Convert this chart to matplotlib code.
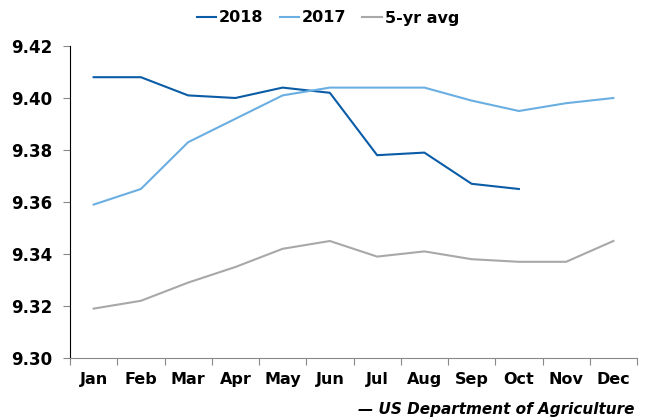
import numpy as np
import matplotlib
matplotlib.use("Agg")
import matplotlib.pyplot as plt

months = ["Jan", "Feb", "Mar", "Apr", "May", "Jun",
          "Jul", "Aug", "Sep", "Oct", "Nov", "Dec"]
y2018 = [9.408, 9.408, 9.401, 9.400, 9.404, 9.402,
         9.378, 9.379, 9.367, 9.365]
y2017 = [9.359, 9.365, 9.383, 9.392, 9.401, 9.404,
         9.404, 9.404, 9.399, 9.395, 9.398, 9.400]
avg5 = [9.319, 9.322, 9.329, 9.335, 9.342, 9.345,
        9.339, 9.341, 9.338, 9.337, 9.337, 9.345]
yticks = [9.30, 9.32, 9.34, 9.36, 9.38, 9.40, 9.42]

plt.rcParams["font.family"] = "DejaVu Sans"
plt.rcParams["font.weight"] = "bold"

fig = plt.figure(figsize=(6.47, 4.19), dpi=100)
ax = fig.add_axes([70 / 647, 1 - 358 / 419, 567 / 647, 312 / 419])

x = np.arange(len(months))
ax.plot(x[:len(y2018)], y2018, color="#0a5ca6", lw=1.5, label="2018")
ax.plot(x, y2017, color="#6aaee2", lw=1.5, label="2017")
ax.plot(x, avg5, color="#a8a8a8", lw=1.5, label="5-yr avg")

ax.set_xlim(-0.5, 11.5)
ax.set_ylim(9.30, 9.42)
ax.set_yticks(yticks)
ax.set_yticklabels([f"{v:.2f}" for v in yticks])
ax.set_xticks(x)
ax.set_xticklabels(months)
ax.set_xticks(np.arange(-0.5, 12, 1), minor=True)
ax.tick_params(axis="x", which="major", length=0, pad=10, labelsize=11.5)
ax.tick_params(axis="x", which="minor", length=5, direction="out", width=0.8, color="#888888")
ax.tick_params(axis="y", length=5, width=0.8, color="#888888", pad=8, labelsize=12)

for s in ["top", "right"]:
    ax.spines[s].set_visible(False)
ax.spines["left"].set_color("black")
ax.spines["bottom"].set_color("#888888")

fig.legend(loc="center", bbox_to_anchor=(328 / 647, 1 - 18 / 419), ncol=3,
           frameon=False, fontsize=11.5, handlelength=1.2, handletextpad=0.2,
           columnspacing=1.0)

fig.text(634 / 647, 1 - 409 / 419, "— US Department of Agriculture",
         ha="right", va="center", fontsize=11, style="italic", weight="bold")

fig.savefig("out.png", dpi=100)
